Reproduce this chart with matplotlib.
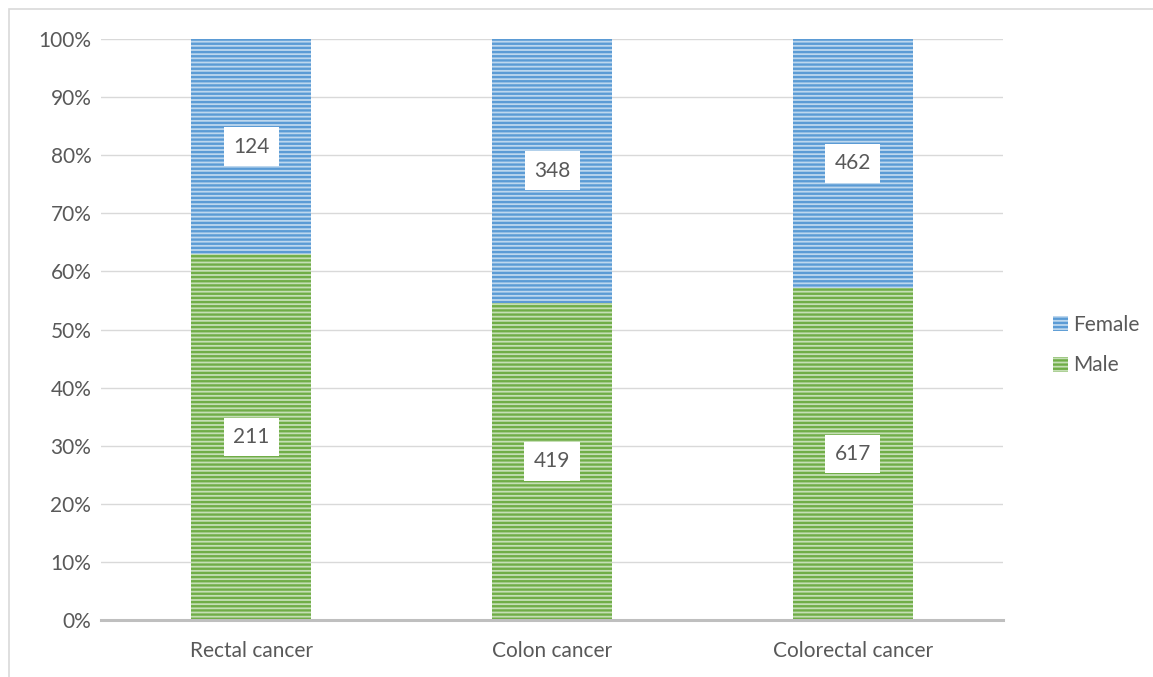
import numpy as np
import matplotlib.pyplot as plt
from matplotlib.patches import Rectangle, Patch
from matplotlib.ticker import PercentFormatter

plt.rcParams['font.family'] = ['Lato', 'DejaVu Sans']
plt.rcParams['hatch.linewidth'] = 1.7

categories = ["Rectal cancer", "Colon cancer", "Colorectal cancer"]
male = np.array([211, 419, 617])
female = np.array([124, 348, 462])

TXT = "#595959"
GREEN_FC, GREEN_HC = "#c5dfb5", "#70ad47"
BLUE_FC, BLUE_HC = "#bdd7ee", "#5b9bd5"

W, H = 1153, 677
fig = plt.figure(figsize=(W / 100, H / 100), dpi=100, facecolor="white")
ax = fig.add_axes([101 / W, 1 - 620 / H, 902 / W, 581 / H])

total = male + female
m_pct = male / total * 100
f_pct = female / total * 100
x = np.arange(len(categories))

ax.bar(x, m_pct, width=0.4, color=GREEN_FC, edgecolor=GREEN_HC, hatch="----",
       lw=0, zorder=3)
ax.bar(x, f_pct, bottom=m_pct, width=0.4, color=BLUE_FC, edgecolor=BLUE_HC,
       hatch="----", lw=0, zorder=3)

box = dict(boxstyle="square,pad=0.45", fc="white", ec="none")
for i in range(len(categories)):
    ax.text(x[i], m_pct[i] / 2, str(male[i]), ha="center", va="center",
            fontsize=15, color=TXT, bbox=box, zorder=5)
    ax.text(x[i], m_pct[i] + f_pct[i] / 2, str(female[i]), ha="center",
            va="center", fontsize=15, color=TXT, bbox=box, zorder=5)

ax.set_xlim(-0.5, 2.5)
ax.set_ylim(0, 100)
ax.set_yticks(np.arange(0, 101, 10))
ax.yaxis.set_major_formatter(PercentFormatter(decimals=0))
ax.set_xticks(x)
ax.set_xticklabels(categories)
ax.tick_params(length=0, labelsize=15, colors=TXT)
ax.tick_params(axis="x", pad=15)
ax.tick_params(axis="y", pad=7)
ax.grid(axis="y", color="#d9d9d9", lw=1, zorder=0)
for s in ["top", "right", "left"]:
    ax.spines[s].set_visible(False)
ax.spines["bottom"].set_color("#bfbfbf")
ax.spines["bottom"].set_linewidth(2.2)
ax.spines["bottom"].set_zorder(4)

handles = [Patch(fc=BLUE_FC, ec=BLUE_HC, hatch="----", lw=0, label="Female"),
           Patch(fc=GREEN_FC, ec=GREEN_HC, hatch="----", lw=0, label="Male")]
leg = fig.legend(handles=handles, loc="center left",
                 bbox_to_anchor=(1034 / W, 1 - 345 / H), frameon=False,
                 fontsize=15, handlelength=0.75, handleheight=0.75,
                 handletextpad=0.25, labelspacing=1.0, labelcolor=TXT)

fig.add_artist(Rectangle((9 / W, -0.1), 1.2, 1.1 - 9 / H, transform=fig.transFigure,
                         fill=False, ec="#d9d9d9", lw=1.2))

plt.savefig("out.png", dpi=100, facecolor="white")
